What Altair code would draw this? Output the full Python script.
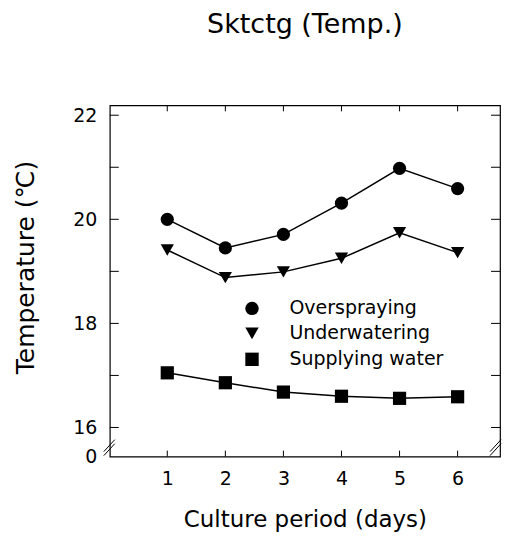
import altair as alt
import pandas as pd

days = [1, 2, 3, 4, 5, 6]
overspraying = [20.00, 19.45, 19.71, 20.31, 20.98, 20.59]
underwatering = [19.41, 18.88, 18.99, 19.25, 19.74, 19.36]
supplying = [17.05, 16.86, 16.68, 16.60, 16.56, 16.59]
series_names = ["Overspraying", "Underwatering", "Supplying water"]
series_shapes = ["circle", "triangle-down", "square"]
y_label_values = [15.44, 16, 18, 20, 22]
y_tick_values = [16, 17, 18, 19, 20, 21, 22]
x_tick_values = [1, 2, 3, 4, 5, 6]

rows = []
for name, vals in zip(series_names, [overspraying, underwatering, supplying]):
    for d, v in zip(days, vals):
        rows.append({"day": d, "temp": v, "series": name})
df = pd.DataFrame(rows)
ydf = pd.DataFrame({"v": y_tick_values})
xdf = pd.DataFrame({"v": x_tick_values})
one = pd.DataFrame({"a": [0]})

W, H = 391, 352
FONT = "DejaVu Sans"
xscale = alt.Scale(domain=[0.01, 6.73], nice=False, zero=False)
yscale = alt.Scale(domain=[15.44, 22.19], nice=False, zero=False)

x_axis = alt.Axis(values=x_tick_values, ticks=False, tickSize=0, domain=False, grid=False,
                  labelFontSize=19, labelFont=FONT, labelColor="black", labelPadding=13,
                  labelFlush=False, title="Culture period (days)", titleFont=FONT,
                  titleFontSize=23, titleFontWeight="normal", titleColor="black",
                  titlePadding=20)
y_axis = alt.Axis(values=y_label_values, ticks=False, tickSize=0, domain=False, grid=False,
                  labelFontSize=19, labelFont=FONT, labelColor="black", labelPadding=13,
                  labelFlush=False, labelOverlap=False,
                  labelExpr="datum.value < 15.5 ? '0' : datum.label",
                  title="Temperature (℃)", titleFont=FONT, titleFontSize=25,
                  titleFontWeight="normal", titleColor="black", titlePadding=34, titleY=162)

lines = alt.Chart(df).mark_line(color="black", strokeWidth=1.5).encode(
    x=alt.X("day:Q", scale=xscale, axis=x_axis),
    y=alt.Y("temp:Q", scale=yscale, axis=y_axis),
    detail="series:N",
)

points = alt.Chart(df).mark_point(filled=True, color="black", opacity=1, size=175).encode(
    x=alt.X("day:Q", scale=xscale, axis=x_axis),
    y=alt.Y("temp:Q", scale=yscale, axis=y_axis),
    shape=alt.Shape("series:N", scale=alt.Scale(domain=series_names, range=series_shapes),
                    legend=alt.Legend(title=None, orient="none", legendX=133, legendY=194,
                                      labelFont=FONT, labelFontSize=19, labelColor="black",
                                      symbolSize=180, symbolFillColor="black",
                                      symbolStrokeColor="black", symbolOpacity=1,
                                      labelOffset=28, rowPadding=5, padding=0)),
)

left_ticks = alt.Chart(ydf).mark_rule(color="black", strokeWidth=1).encode(
    y=alt.Y("v:Q", scale=yscale, axis=y_axis), x=alt.value(0), x2=alt.value(9))
right_ticks = alt.Chart(ydf).mark_rule(color="black", strokeWidth=1).encode(
    y=alt.Y("v:Q", scale=yscale, axis=y_axis), x=alt.value(W - 9), x2=alt.value(W))
top_ticks = alt.Chart(xdf).mark_rule(color="black", strokeWidth=1).encode(
    x=alt.X("v:Q", scale=xscale, axis=x_axis), y=alt.value(0), y2=alt.value(6))
bottom_ticks = alt.Chart(xdf).mark_rule(color="black", strokeWidth=1).encode(
    x=alt.X("v:Q", scale=xscale, axis=x_axis), y=alt.value(H - 6), y2=alt.value(H))

def brk(x0, y0):
    return alt.Chart(one).mark_rule(color="black", strokeWidth=1).encode(
        x=alt.value(x0), y=alt.value(y0), x2=alt.value(x0 + 11), y2=alt.value(y0 - 12))

breaks = [brk(-6, 347), brk(-6, 351), brk(W - 10, 347), brk(W - 10, 351)]

chart = alt.layer(lines, points, left_ticks, right_ticks, top_ticks, bottom_ticks, *breaks).properties(
    width=W, height=H,
    padding={"left": 5, "top": 2, "right": 0, "bottom": 0},
    title=alt.TitleParams("Sktctg (Temp.)", font=FONT, fontSize=27, fontWeight="normal",
                          color="black", anchor="middle", frame="group",
                          baseline="top", offset=66),
).configure_view(stroke="black", strokeWidth=1.2)

chart.save("out.html", embed_options={"renderer": "svg", "actions": False})
